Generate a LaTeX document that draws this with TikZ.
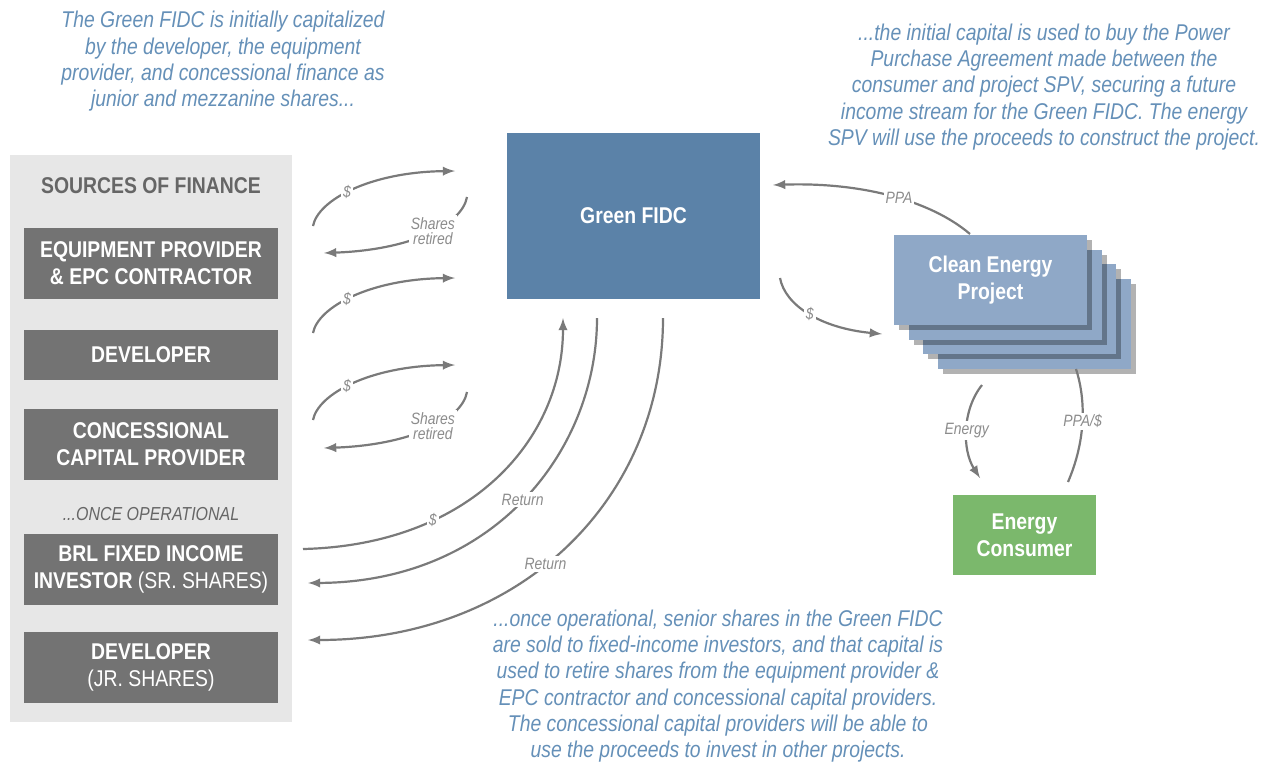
\documentclass[tikz,border=0pt]{standalone}
\usepackage{fontspec}
\setmainfont{Liberation Sans}[FakeStretch=0.85]
\usepackage{tikz}
\usetikzlibrary{shadows}

\definecolor{srcgrey}{HTML}{737373}
\definecolor{panelgrey}{HTML}{E7E7E7}
\definecolor{headgrey}{HTML}{666666}
\definecolor{fidcblue}{HTML}{5B82A8}
\definecolor{projblue}{HTML}{8FA8C7}
\definecolor{consgreen}{HTML}{7BB86C}
\definecolor{notetext}{HTML}{6590B8}
\definecolor{flowgrey}{HTML}{7A7A7A}
\definecolor{lblgrey}{HTML}{8C8C8C}

\newcommand\bigfont{\fontsize{11.4}{13.4}\selectfont}
\newcommand\lblfont{\fontsize{8.2}{7.8}\selectfont\itshape}

\begin{document}
\begin{tikzpicture}[x=0.5pt, y=-0.5pt, >=latex,
  srcbox/.style={fill=srcgrey, text=white, font=\bigfont\bfseries, align=center,
    minimum width=127pt, minimum height=35.5pt, inner sep=0pt},
  fidcbox/.style={fill=fidcblue, text=white, font=\bigfont\bfseries,
    minimum width=126.5pt, minimum height=83pt, inner sep=0pt},
  projbox/.style={fill=projblue, text=white, font=\bigfont\bfseries, align=center,
    minimum width=96.5pt, minimum height=45pt, inner sep=0pt,
    drop shadow={shadow xshift=2.5pt, shadow yshift=-2.5pt, opacity=.3, fill=black}},
  consbox/.style={fill=consgreen, text=white, font=\bigfont\bfseries, align=center,
    minimum width=71.5pt, minimum height=40pt, inner sep=0pt},
  note/.style={text=notetext, font=\fontsize{11.4}{13.15}\selectfont\itshape, align=center},
  flow/.style={draw=flowgrey, line width=1.1pt, ->},
  lbl/.style={fill=white, text=lblgrey, font=\lblfont, align=center, inner sep=1pt}]

  \useasboundingbox (0,0) rectangle (1270,761);

  %% sources of finance
  \node[fill=panelgrey, minimum width=141pt, minimum height=283.5pt] (panel) at (151,438.5) {};
  \node[text=headgrey, font=\bigfont\bfseries] (head) at (151,186) {SOURCES OF FINANCE};
  \node[srcbox] (equip) at (151,263.5) {EQUIPMENT PROVIDER\\\& EPC CONTRACTOR};
  \node[srcbox, minimum height=25pt] (dev) at (151,355) {DEVELOPER};
  \node[srcbox] (conc) at (151,444.5) {CONCESSIONAL\\CAPITAL PROVIDER};
  \node[text=headgrey, font=\fontsize{9.4}{11}\selectfont\itshape] (oper) at (151,514) {...ONCE OPERATIONAL};
  \node[srcbox] (brl) at (151,569.5) {BRL FIXED INCOME\\INVESTOR {\mdseries (SR. SHARES)}};
  \node[srcbox] (jr) at (151,667.5) {DEVELOPER\\{\mdseries (JR. SHARES)}};

  %% fund, project, consumer
  \node[fidcbox] (fidc) at (633.5,216) {Green FIDC};
  \foreach \k in {3,2,1}
    \node[projbox] (proj\k) at (990.5+14.5*\k, 280+14.5*\k) {};
  \node[projbox] (proj) at (990.5,280) {Clean Energy\\Project};
  \node[consbox] (cons) at (1024.5,535) {Energy\\Consumer};

  %% notes
  \node[note] (note1) at (223,61.5) {The Green FIDC is initially capitalized\\by the developer, the equipment\\provider, and concessional finance as\\junior and mezzanine shares...};
  \node[note] (note2) at (1044,87) {...the initial capital is used to buy the Power\\Purchase Agreement made between the\\consumer and project SPV, securing a future\\income stream for the Green FIDC. The energy\\SPV will use the proceeds to construct the project.};
  \node[note] (note3) at (718,686) {...once operational, senior shares in the Green FIDC\\are sold to fixed-income investors, and that capital is\\used to retire shares from the equipment provider \&\\EPC contractor and concessional capital providers.\\The concessional capital providers will be able to\\use the proceeds to invest in other projects.};

  %% capital in
  \foreach \n/\dy in {1/0, 2/107, 3/194} {
    \coordinate (in\n) at (313,226+\dy);
    \coordinate (fi\n) at (455,171+\dy);
    \draw[flow] (in\n) .. controls (318,200+\dy) and (370,172+\dy) .. node[lbl, pos=.45]{\$} (fi\n);
  }
  %% shares retired
  \foreach \n/\dy in {1/0, 2/195} {
    \coordinate (fo\n) at (467,197+\dy);
    \coordinate (re\n) at (324,253+\dy);
    \draw[flow] (fo\n) .. controls (462,225+\dy) and (410,250+\dy) .. node[lbl, pos=.45]{Shares\\retired} (re\n);
  }

  %% once operational
  \coordinate (brlout) at (303,549);
  \coordinate (brlin) at (308,583);
  \coordinate (jrin) at (308,640);
  \coordinate (fidcin) at (563,318);
  \coordinate (fidcout1) at (597,318);
  \coordinate (fidcout2) at (663,318);
  \draw[flow] (brlout) .. controls (470,545) and (563,440) .. node[lbl, pos=.3]{\$} (fidcin);
  \draw[flow] (fidcout1) .. controls (597,450) and (495,582) .. node[lbl, pos=.5]{Return} (brlin);
  \draw[flow] (fidcout2) .. controls (663,500) and (520,640) .. node[lbl, pos=.55]{Return} (jrin);

  %% fund <-> project
  \coordinate (pay) at (780,278);
  \coordinate (payend) at (882,334);
  \draw[flow] (pay) .. controls (785,305) and (820,328) .. node[lbl, pos=.5]{\$} (payend);
  \coordinate (ppa) at (970,234);
  \coordinate (ppaend) at (773,185);
  \draw[flow] (ppa) .. controls (930,200) and (860,182) .. node[lbl, pos=.45]{PPA} (ppaend);

  %% project <-> consumer
  \coordinate (en) at (982,385);
  \coordinate (enend) at (980,478);
  \draw[flow] (en) .. controls (962,410) and (962,450) .. node[lbl, pos=.5]{Energy} (enend);
  \coordinate (pp) at (1068,482);
  \coordinate (ppend) at (1076,369);
  \draw[flow, -] (pp) .. controls (1086,440) and (1086,400) .. node[lbl, pos=.5]{PPA/\$} (ppend);
\end{tikzpicture}
\end{document}
